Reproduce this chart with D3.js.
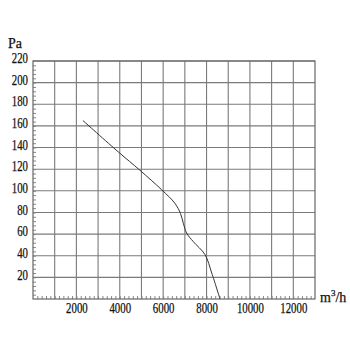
<!DOCTYPE html>
<html>
<head>
<meta charset="utf-8">
<script src="https://cdn.jsdelivr.net/npm/d3@7"></script>
<style>
body { margin: 0; background: #fff; }
text { font-family: "Liberation Serif", serif; }
</style>
</head>
<body>
<div id="chart"></div>
<script>
// fan curve, flow in m3/h vs static pressure in Pa
var flow = [2300, 3930, 4930, 5930, 6540, 6800, 6930, 7080, 7390, 7930, 8240, 8620];
var pressure = [165, 136, 119, 101, 88.5, 79, 70, 61, 53, 41, 24, 0];
var xTicks = [2000, 4000, 6000, 8000, 10000, 12000];
var yTicks = [20, 40, 60, 80, 100, 120, 140, 160, 180, 200, 220];

var margin = {top: 61, right: 35, bottom: 51, left: 33},
	width = 350 - margin.left - margin.right,
	height = 350 - margin.top - margin.bottom;

var svg = d3.select("#chart")
  .append("svg")
	.attr("width", 350)
	.attr("height", 350)
  .append("g")
	.attr("transform", "translate(" + margin.left + "," + margin.top + ")");

var x = d3.scaleLinear().domain([0, 13000]).range([0, width]);
var y = d3.scaleLinear().domain([0, 220]).range([height, 0]);

// grid
svg.append("g")
  .selectAll("line")
  .data(d3.range(1000, 13000, 1000))
  .enter().append("line")
	.attr("x1", function (d) { return x(d); })
	.attr("x2", function (d) { return x(d); })
	.attr("y1", 0).attr("y2", height)
	.attr("stroke", "#7a7a7a").attr("stroke-width", 1.1);
svg.append("g")
  .selectAll("line")
  .data(yTicks)
  .enter().append("line")
	.attr("x1", 0).attr("x2", width)
	.attr("y1", function (d) { return y(d); })
	.attr("y2", function (d) { return y(d); })
	.attr("stroke", "#7a7a7a").attr("stroke-width", 1.1);

// minor ticks
svg.append("g")
  .attr("transform", "translate(0," + height + ")")
  .call(d3.axisTop(x).tickValues(d3.range(200, 13000, 200)).tickSize(3).tickFormat(""))
  .call(function (g) { g.select(".domain").remove(); })
  .selectAll("line").attr("stroke", "#888");
svg.append("g")
  .call(d3.axisRight(y).tickValues(d3.range(4, 220, 4)).tickSize(3).tickFormat(""))
  .call(function (g) { g.select(".domain").remove(); })
  .selectAll("line").attr("stroke", "#888");

// frame
svg.append("rect")
  .attr("width", width).attr("height", height)
  .attr("fill", "none").attr("stroke", "#666").attr("stroke-width", 1.2);

// axis labels
var xa = svg.append("g")
  .attr("transform", "translate(0," + height + ")")
  .call(d3.axisBottom(x).tickValues(xTicks).tickSize(0).tickPadding(4).tickFormat(d3.format("d")));
xa.select(".domain").remove();
xa.selectAll("text")
  .attr("font-size", 14).attr("font-family", "Liberation Serif").attr("fill", "#111")
  .attr("stroke", "#111").attr("stroke-width", 0.25)
  .attr("textLength", function (d) { return String(d).length * 5.4; })
  .attr("lengthAdjust", "spacingAndGlyphs");

var ya = svg.append("g")
  .call(d3.axisLeft(y).tickValues(yTicks).tickSize(0).tickPadding(5));
ya.select(".domain").remove();
ya.selectAll("text")
  .attr("font-size", 14).attr("font-family", "Liberation Serif").attr("fill", "#111")
  .attr("stroke", "#111").attr("stroke-width", 0.25)
  .attr("dy", "0.12em")
  .attr("textLength", function (d) { return String(d).length * 5.4; })
  .attr("lengthAdjust", "spacingAndGlyphs");

svg.append("text")
  .attr("x", -25).attr("y", -13)
  .attr("font-size", 14).attr("fill", "#111")
  .attr("stroke", "#111").attr("stroke-width", 0.25)
  .attr("textLength", 14).attr("lengthAdjust", "spacingAndGlyphs")
  .text("Pa");

var unit = svg.append("text")
  .attr("x", width + 5).attr("y", height + 3)
  .attr("font-size", 14).attr("fill", "#111")
  .attr("stroke", "#111").attr("stroke-width", 0.25);
unit.append("tspan").text("m");
unit.append("tspan").attr("font-size", 9).attr("dy", -6).text("3");
unit.append("tspan").attr("dy", 6).text("/h");

// curve
var pts = flow.map(function (d, i) { return {q: d, p: pressure[i]}; });
svg.append("path")
  .datum(pts)
  .attr("fill", "none")
  .attr("stroke", "#333")
  .attr("stroke-width", 1)
  .attr("d", d3.line()
	.x(function (d) { return x(d.q); })
	.y(function (d) { return y(d.p); })
	.curve(d3.curveCatmullRom.alpha(0.5)));
</script>
</body>
</html>
